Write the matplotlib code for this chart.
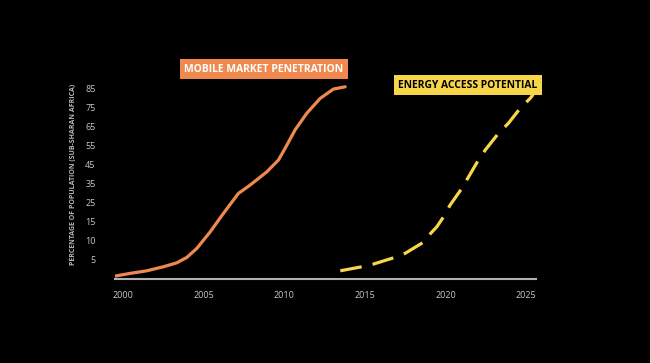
import numpy as np
import matplotlib
matplotlib.use("Agg")
import matplotlib.pyplot as plt

# data
mobile_years = [1999.48, 2000.42, 2001.45, 2002.48, 2003.32, 2003.94, 2004.56, 2005.39, 2006.21,
                2007.14, 2007.87, 2008.91, 2009.63, 2010.04, 2010.66, 2011.39, 2012.22, 2013.04, 2013.77]
mobile_vals = [0.71, 1.42, 2.1, 3.16, 4.21, 5.63, 8.0, 12.35, 19.4,
               29.9, 34.3, 41.3, 47.5, 53.6, 63.3, 72.1, 79.9, 84.8, 86.0]
energy_years = [2013.47, 2014.81, 2015.53, 2016.77, 2017.5, 2018.63, 2019.05, 2019.47, 2019.88,
                2020.29, 2021.02, 2022.05, 2022.47, 2023.29, 2023.91, 2024.64, 2025.26, 2025.45]
energy_vals = [2.1, 3.16, 3.87, 5.5, 6.7, 9.6, 11.8, 13.7, 17.6,
               23.8, 32.6, 47.5, 52.7, 61.5, 66.8, 74.7, 79.9, 82.0]
x_ticks = [2000, 2005, 2010, 2015, 2020, 2025]
y_ticks = [5, 10, 15, 25, 35, 45, 55, 65, 75, 85]

# axis mapping: tick labels are evenly spaced
scale_vals = np.array([0] + y_ticks + [95], dtype=float)
scale_pos = np.arange(len(scale_vals), dtype=float)

def fwd(v):
    return np.interp(v, scale_vals, scale_pos)

def inv(p):
    return np.interp(p, scale_pos, scale_vals)

plt.rcParams['font.family'] = ['Open Sans', 'DejaVu Sans']

fig = plt.figure(figsize=(6.5, 3.63), dpi=100, facecolor='black')
ax = fig.add_axes([0.177, 0.232, 0.648, 0.576])
ax.set_facecolor('black')
ax.set_yscale('function', functions=(fwd, inv))

orange = '#F0894E'
yellow = '#F8D64A'

ax.plot(mobile_years, mobile_vals, color=orange, lw=2.3, solid_capstyle='round',
        solid_joinstyle='round')
ax.plot(energy_years, energy_vals, color=yellow, lw=2.3, dashes=(6.8, 3.5),
        dash_joinstyle='round')

ax.set_xlim(1999.48, 2025.64)
ax.set_ylim(0, 95)
ax.set_xticks(x_ticks)
ax.set_xticklabels([str(t) for t in x_ticks])
ax.set_yticks(y_ticks)
ax.set_yticklabels([str(t) for t in y_ticks])
ax.minorticks_off()
ax.tick_params(axis='both', length=0, colors='#c8c8c8', labelsize=6.5)
ax.tick_params(axis='x', pad=9)
ax.tick_params(axis='y', pad=14)
for s in ['top', 'right', 'left']:
    ax.spines[s].set_visible(False)
ax.spines['bottom'].set_color('#b0b0b0')
ax.spines['bottom'].set_linewidth(1.5)

ax.set_ylabel('PERCENTAGE OF POPULATION (SUB-SHARAN AFRICA)', color='#b8b8b8',
              fontsize=5, fontweight='bold', labelpad=6)

fig.text(264 / 650, 1 - 69 / 363, 'MOBILE MARKET PENETRATION', color='white',
         fontsize=7.5, fontweight='bold', ha='center', va='center',
         bbox=dict(boxstyle='square,pad=0.45', fc=orange, ec='none'))
fig.text(468 / 650, 1 - 85 / 363, 'ENERGY ACCESS POTENTIAL', color='black',
         fontsize=7.4, fontweight='bold', ha='center', va='center',
         bbox=dict(boxstyle='square,pad=0.45', fc=yellow, ec='none'))

fig.savefig('out.png', dpi=100, facecolor='black')
